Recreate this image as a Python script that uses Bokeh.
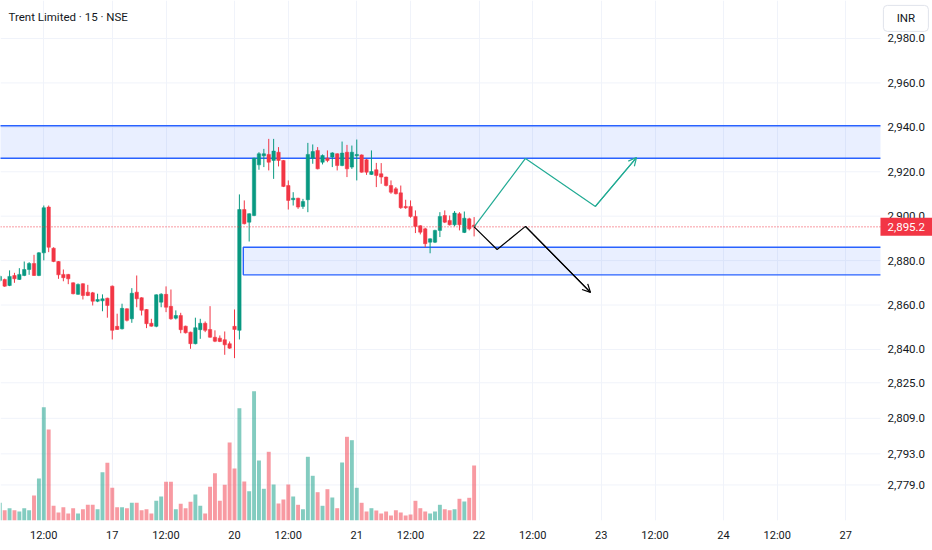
from bokeh.plotting import figure
from bokeh.models import Range1d, FixedTicker, Label, Arrow, OpenHead, ColumnDataSource
from bokeh.embed import file_html
from bokeh.resources import INLINE
from bokeh.core.properties import value

# ---------------- data ----------------
title_text = "Trent Limited \u00b7 15 \u00b7 NSE"
currency = "INR"
last_price = 2895.2

# 15-minute bars, 25 per session; index 0 = 16th 09:15
bar_index = list(range(2, 100))

opens = [2871.1, 2871.5, 2868.8, 2873.3, 2871.5, 2873.3, 2876.0, 2878.7, 2873.3, 2883.5,
         2904.1, 2885.6, 2879.6, 2873.8, 2873.8, 2870.0, 2864.8, 2869.6, 2865.8, 2865.5,
         2861.7, 2861.9, 2863.1, 2868.5, 2850.4, 2849.3, 2858.3, 2853.8, 2865.8, 2863.3,
         2858.0, 2851.8, 2850.4, 2861.3, 2864.8, 2859.4, 2854.1, 2855.3, 2850.5, 2847.8,
         2842.6, 2848.9, 2851.8, 2849.0, 2845.5, 2845.1, 2844.4, 2842.6, 2850.4, 2848.6,
         2903.0, 2897.3, 2900.3, 2923.1, 2927.2, 2927.8, 2925.1, 2928.8, 2925.1, 2913.8,
         2907.4, 2908.1, 2904.4, 2907.4, 2926.1, 2929.6, 2924.3, 2926.1, 2926.6, 2928.1,
         2922.8, 2928.8, 2922.1, 2927.2, 2927.6, 2925.4, 2918.8, 2920.9, 2919.1, 2917.6,
         2913.8, 2912.3, 2910.5, 2904.4, 2904.4, 2899.9, 2895.7, 2894.3, 2888.3, 2888.3,
         2893.6, 2900.3, 2898.1, 2896.1, 2901.1, 2892.7, 2898.8, 2896.0]

highs = [2873.3, 2871.9, 2875.6, 2874.5, 2876.6, 2879.6, 2879.3, 2882.6, 2883.8, 2904.8,
         2904.8, 2886.0, 2879.8, 2876.0, 2874.0, 2870.2, 2869.7, 2869.8, 2869.1, 2865.9,
         2865.1, 2864.8, 2863.3, 2868.8, 2856.1, 2860.6, 2858.5, 2867.6, 2873.3, 2863.5,
         2858.2, 2853.8, 2864.8, 2865.3, 2868.4, 2867.0, 2857.6, 2856.5, 2850.7, 2848.0,
         2854.3, 2853.8, 2852.6, 2859.5, 2848.6, 2846.3, 2848.1, 2843.6, 2858.0, 2909.8,
         2907.1, 2901.3, 2926.3, 2928.8, 2930.3, 2934.8, 2934.8, 2931.1, 2925.3, 2916.1,
         2910.8, 2908.3, 2907.8, 2933.0, 2932.3, 2931.1, 2927.8, 2929.6, 2928.8, 2928.3,
         2933.6, 2932.1, 2931.8, 2934.5, 2927.8, 2925.8, 2929.6, 2924.0, 2923.9, 2917.8,
         2916.1, 2913.1, 2913.8, 2907.4, 2907.1, 2902.6, 2895.9, 2894.8, 2890.0, 2893.9,
         2901.8, 2902.6, 2900.3, 2902.3, 2901.8, 2902.1, 2899.3, 2899.6]

lows = [2870.4, 2868.2, 2868.5, 2870.0, 2871.3, 2873.0, 2873.6, 2873.1, 2873.0, 2880.1,
        2883.8, 2879.3, 2871.8, 2870.7, 2869.4, 2864.8, 2864.6, 2862.5, 2864.0, 2859.8,
        2861.3, 2857.2, 2854.3, 2844.5, 2848.8, 2849.0, 2852.6, 2852.0, 2859.0, 2855.3,
        2849.6, 2850.3, 2850.0, 2859.0, 2856.8, 2853.4, 2853.5, 2847.3, 2847.2, 2840.3,
        2842.3, 2844.8, 2847.8, 2845.3, 2843.3, 2843.3, 2837.6, 2840.3, 2836.1, 2844.5,
        2896.3, 2888.6, 2900.0, 2920.9, 2922.1, 2920.6, 2916.8, 2922.4, 2913.1, 2903.0,
        2904.8, 2903.3, 2903.3, 2901.8, 2923.6, 2921.1, 2923.3, 2924.3, 2922.1, 2920.6,
        2922.5, 2917.6, 2921.3, 2916.1, 2919.6, 2918.6, 2918.6, 2913.1, 2914.6, 2913.4,
        2910.1, 2909.8, 2903.3, 2903.3, 2899.3, 2892.4, 2891.8, 2886.0, 2883.3, 2887.9,
        2890.6, 2896.9, 2895.8, 2895.4, 2893.6, 2892.4, 2893.6, 2890.9]

closes = [2872.9, 2868.5, 2872.9, 2871.8, 2873.8, 2876.0, 2878.7, 2873.3, 2883.5, 2903.8,
          2886.0, 2879.6, 2873.6, 2872.3, 2871.8, 2865.1, 2869.3, 2864.3, 2864.3, 2861.7,
          2862.5, 2862.8, 2859.8, 2848.6, 2849.0, 2858.5, 2853.1, 2865.3, 2862.8, 2857.6,
          2851.6, 2850.5, 2864.6, 2864.9, 2859.0, 2853.8, 2855.3, 2848.9, 2847.5, 2842.6,
          2849.8, 2851.8, 2848.6, 2845.5, 2843.7, 2843.6, 2842.1, 2840.6, 2849.0, 2903.0,
          2896.6, 2901.1, 2926.1, 2928.1, 2928.1, 2924.3, 2929.3, 2925.1, 2913.4, 2907.1,
          2908.1, 2904.1, 2906.6, 2927.8, 2929.1, 2921.3, 2927.3, 2925.1, 2928.5, 2922.8,
          2928.4, 2921.3, 2928.8, 2927.8, 2919.8, 2919.8, 2920.1, 2918.3, 2917.6, 2913.8,
          2910.8, 2910.1, 2903.8, 2903.8, 2899.9, 2895.4, 2892.8, 2887.6, 2889.8, 2893.6,
          2899.9, 2897.3, 2896.1, 2901.4, 2896.1, 2899.1, 2894.3, 2895.2]

volumes = [17700, 10300, 12300, 10300, 9000, 12300, 10300, 25000, 42000, 113300,
           91000, 14700, 8000, 13300, 7000, 12300, 7000, 11300, 15700, 15700,
           11300, 48300, 57700, 32700, 13300, 13300, 12300, 17700, 17700, 10300,
           11300, 7000, 19700, 24000, 38700, 38700, 11300, 16700, 12300, 18700,
           26000, 14700, 7000, 33700, 47300, 19700, 35700, 78000, 52000, 112300,
           39000, 29300, 129300, 60000, 31700, 68700, 36000, 17000, 21000, 36000,
           24000, 15700, 11300, 63700, 44700, 28300, 14700, 31300, 23000, 12300,
           58000, 83700, 80300, 32700, 17700, 9000, 12300, 10000, 7000, 9000,
           5000, 10300, 8000, 5000, 6000, 19700, 12300, 9000, 7000, 9000,
           15700, 11300, 10300, 11300, 21700, 19000, 22700, 55000]

# time axis ticks (bar index) and labels
xtick_pos = [11, 25, 36, 50, 61, 75, 86, 100, 111, 125, 136, 150, 161, 175]
xtick_labels = ["12:00", "17", "12:00", "20", "12:00", "21", "12:00", "22",
                "12:00", "23", "12:00", "24", "12:00", "27"]

# price scale ticks
ytick_vals = [2779, 2793, 2809, 2825, 2840, 2860, 2880, 2900, 2920, 2940, 2960, 2980]

# supply / demand zones (price bounds) and start bar of the lower zone
zone_upper = (2926.1, 2940.7)
zone_lower = (2873.6, 2886.0)
zone_lower_start = 51.8

# projected paths (bar index, price)
proj_up_x = [99.0, 109.5, 123.8, 132.2]
proj_up_y = [2895.2, 2926.0, 2904.4, 2926.4]
proj_dn_x = [99.0, 103.7, 109.5, 122.8]
proj_dn_y = [2895.2, 2885.0, 2895.4, 2865.7]

# ---------------- styling / layout ----------------
UP = "#089981"
DOWN = "#f23645"
TXT = "#131722"
GRID = "#f0f3fa"
ZONE_LINE = "#2962ff"
FONT = "Roboto"

X0 = 2.145          # left edge of the view (bar index)
PLOT_END = 182.1    # where the price scale column begins
X1 = 192.74         # right edge of the canvas
Y0, Y1 = 2763.0, 2997.1
VOL_MAX = 520000
TAG_HALF = 4.05     # half height of the last-price tag, in price units
BOX_L, BOX_R = 182.7, 191.9       # currency box, bar-index units
BOX_B, BOX_T = 2983.2, 2994.9     # currency box, price units

colors = [UP if c >= o else DOWN for o, c in zip(opens, closes)]
src = ColumnDataSource(dict(
    x=bar_index, o=opens, h=highs, l=lows, c=closes, v=volumes,
    top=[max(o, c) for o, c in zip(opens, closes)],
    bot=[min(o, c) for o, c in zip(opens, closes)],
    color=colors,
))

p = figure(frame_width=932, frame_height=520, output_backend="svg", toolbar_location=None,
           x_range=Range1d(X0, X1), y_range=Range1d(Y0, Y1),
           min_border_left=0, min_border_top=0, min_border_right=0, min_border_bottom=28,
           background_fill_color="white", border_fill_color="white")
p.outline_line_color = None
p.yaxis.visible = False
p.ygrid.visible = False
p.extra_y_ranges = {"vol": Range1d(0, VOL_MAX)}

# time axis
p.xaxis.ticker = FixedTicker(ticks=xtick_pos)
p.xaxis.major_label_overrides = {k: v for k, v in zip(xtick_pos, xtick_labels)}
p.xaxis.axis_line_color = None
p.xaxis.major_tick_line_color = None
p.xaxis.major_tick_out = 0
p.xaxis.major_tick_in = 0
p.xaxis.minor_tick_line_color = None
p.xaxis.minor_tick_out = 0
p.xaxis.major_label_text_font = FONT
p.xaxis.major_label_text_font_size = "11px"
p.xaxis.major_label_text_color = TXT
p.xaxis.major_label_standoff = 8
p.xgrid.ticker = FixedTicker(ticks=xtick_pos)
p.xgrid.grid_line_color = GRID

# horizontal price grid (stops at the price scale)
p.segment(x0=[X0] * len(ytick_vals), x1=[PLOT_END] * len(ytick_vals),
          y0=ytick_vals, y1=ytick_vals, line_color=GRID, line_width=1)

# zones: fill + edges
p.quad(left=[X0 - 1], right=[PLOT_END], bottom=[zone_upper[0]], top=[zone_upper[1]],
       fill_color=ZONE_LINE, fill_alpha=0.1, line_color=None)
p.segment(x0=[X0 - 1, X0 - 1], x1=[PLOT_END, PLOT_END],
          y0=list(zone_upper), y1=list(zone_upper), line_color=ZONE_LINE, line_width=1.4)
p.quad(left=[zone_lower_start], right=[PLOT_END], bottom=[zone_lower[0]], top=[zone_lower[1]],
       fill_color=ZONE_LINE, fill_alpha=0.1, line_color=None)
p.line([PLOT_END, zone_lower_start, zone_lower_start, PLOT_END],
       [zone_lower[1], zone_lower[1], zone_lower[0], zone_lower[0]],
       line_color=ZONE_LINE, line_width=1.4)

# volume
p.vbar(x="x", top="v", bottom=0, width=0.8, source=src, y_range_name="vol",
       fill_color="color", fill_alpha=0.5, line_color=None)

# candles
p.segment(x0="x", y0="l", x1="x", y1="h", source=src, line_color="color", line_width=1)
p.vbar(x="x", top="top", bottom="bot", width=0.7, source=src,
       fill_color="color", line_color="color", line_width=0.5)

# last price dotted line
p.segment(x0=[X0], x1=[PLOT_END], y0=[last_price], y1=[last_price],
          line_color=DOWN, line_width=1, line_dash="1 2")

# projections
p.line(proj_up_x, proj_up_y, line_color="#22ab94", line_width=1.2)
p.line(proj_dn_x, proj_dn_y, line_color="#000000", line_width=1.2)
p.add_layout(Arrow(end=OpenHead(size=8, line_color="#22ab94", line_width=1.2),
                   x_start=proj_up_x[-2], y_start=proj_up_y[-2],
                   x_end=proj_up_x[-1], y_end=proj_up_y[-1],
                   line_color="#22ab94", line_width=1.2))
p.add_layout(Arrow(end=OpenHead(size=8, line_color="#000000", line_width=1.2),
                   x_start=proj_dn_x[-2], y_start=proj_dn_y[-2],
                   x_end=proj_dn_x[-1], y_end=proj_dn_y[-1],
                   line_color="#000000", line_width=1.2))

# price scale labels
p.text(x=[PLOT_END] * len(ytick_vals), y=ytick_vals,
       text=["{:,.1f}".format(v) for v in ytick_vals],
       x_offset=7, text_baseline="middle", text_align="left",
       text_font=value(FONT), text_font_size="11.5px", text_color=TXT)

# last price tag
p.quad(left=[PLOT_END], right=[X1], bottom=[last_price - TAG_HALF], top=[last_price + TAG_HALF],
       fill_color=DOWN, line_color=None)
p.text(x=[PLOT_END], y=[last_price], text=["{:,.1f}".format(last_price)],
       x_offset=7, text_baseline="middle", text_align="left",
       text_font=value(FONT), text_font_size="11.5px", text_color="white")

# currency box
p.quad(left=[BOX_L], right=[BOX_R], bottom=[BOX_B], top=[BOX_T],
       fill_color="white", line_color="#e0e3eb", line_width=1, border_radius=4)
p.text(x=[(BOX_L + BOX_R) / 2], y=[(BOX_B + BOX_T) / 2], text=[currency],
       text_baseline="middle", text_align="center",
       text_font=value(FONT), text_font_size="11.5px", text_color=TXT)

# title
p.add_layout(Label(x=X0 + 1.63, y=2989.5, text=title_text, text_font=FONT,
                   text_font_size="11.5px", text_color=TXT, text_baseline="middle"))

open("out.html", "w").write(file_html(p, INLINE))
